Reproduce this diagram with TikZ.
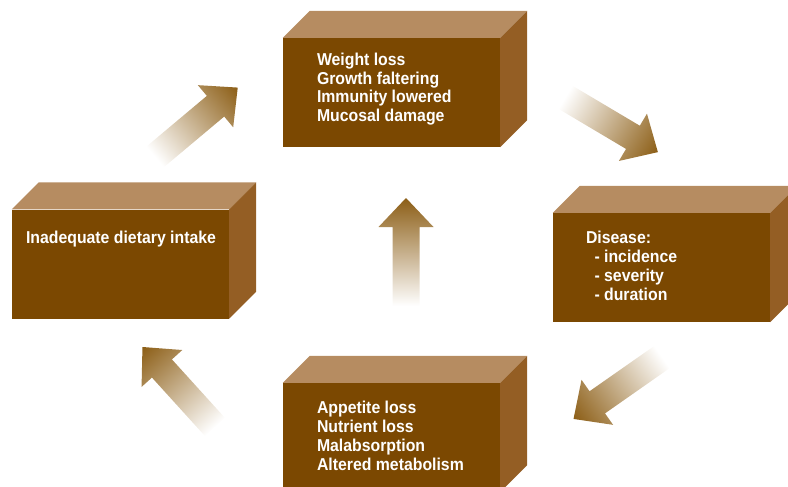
\documentclass[tikz,border=0pt]{standalone}
\usepackage{fontspec}
\setmainfont{Liberation Sans}[FakeStretch=0.92]
\usepackage{tikz}

\definecolor{frontbrown}{RGB}{123,72,1}
\definecolor{topbrown}{RGB}{182,140,97}
\definecolor{sidebrown}{RGB}{148,94,36}
\definecolor{arrowgold}{RGB}{140,94,22}

\begin{document}
\begin{tikzpicture}[x=1pt,y=-1pt]
            \tikzstyle{every node}+=[inner sep=0pt]
            \tikzstyle{front}=[fill=frontbrown, minimum width=217pt, minimum height=109pt]
            \tikzstyle{boxtext}=[anchor=north west, align=left, text=white, font=\bfseries\fontsize{17.2}{18.7}\selectfont]
            \useasboundingbox (0,0) rectangle (788,487);
            \clip (0,0) rectangle (788,487);
            \node [front] (wt) at (391.5,92.5) {};
            \node [front] (dis) at (661.5,267.5) {};
            \node [front] (inq) at (120.5,264) {};
            \node [front] (app) at (391.5,437.5) {};
            \foreach \b in {wt,dis,inq,app} {
                \fill [topbrown] (\b.north west) -- ++(27,-27) -- ([shift={(27,-27)}]\b.north east) -- (\b.north east) -- cycle;
                \fill [sidebrown] (\b.north east) -- ++(27,-27) -- ([shift={(27,-27)}]\b.south east) -- (\b.south east) -- cycle;
            }
            \node [boxtext] (wt-text) at ([shift={(34,15)}]wt.north west) {Weight loss\\Growth faltering\\Immunity lowered\\Mucosal damage};
            \node [boxtext] (dis-text) at ([shift={(33,18.5)}]dis.north west) {Disease:\\\hspace*{8.5pt}- incidence\\\hspace*{8.5pt}- severity\\\hspace*{8.5pt}- duration};
            \node [boxtext] (inq-text) at ([shift={(14,22)}]inq.north west) {Inadequate dietary intake};
            \node [boxtext] (app-text) at ([shift={(34,18.5)}]app.north west) {Appetite loss\\Nutrient loss\\Malabsorption\\Altered metabolism};
            \foreach \x/\y/\a [count=\i] in {155/157/40, 565/97/-30.7, 662/357/215, 215/427/132.2, 406/306/90} {
                \coordinate (tail\i) at (\x,\y);
                \shade [transform canvas={shift={(tail\i)}, rotate=\a}, left color=white, right color=arrowgold]
                    (0,-13.5) -- (79,-13.5) -- (79,-27.5) -- (108,0) -- (79,27.5) -- (79,13.5) -- (0,13.5) -- cycle;
            }
        \end{tikzpicture}
\end{document}
